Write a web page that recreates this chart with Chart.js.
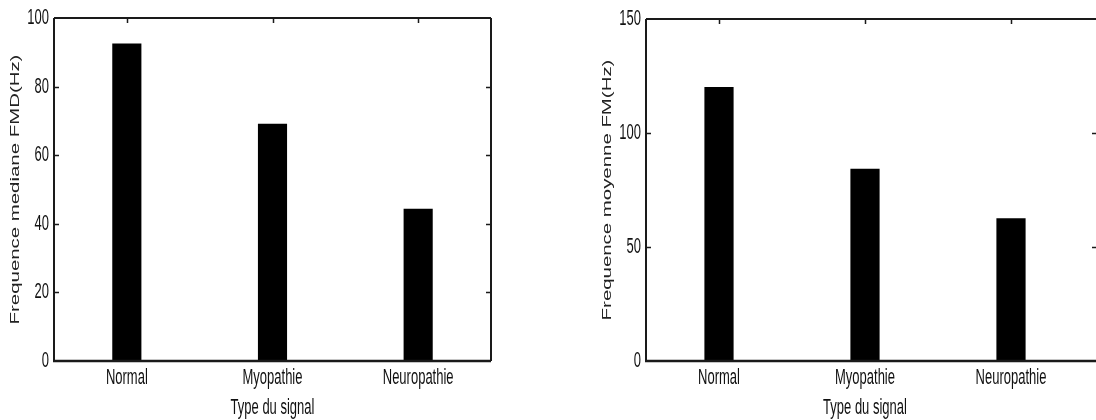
<!DOCTYPE html>
<html>
<head>
<meta charset="utf-8">
<script src="https://cdn.jsdelivr.net/npm/chart.js@4"></script>
<style>
  html, body { margin: 0; padding: 0; background: #fff; }
  #wrap { position: relative; width: 1096px; height: 420px; overflow: hidden; }
  canvas { position: absolute; top: 0; }
  #medianChart { left: 0; }
  #meanChart { left: 548px; }
</style>
</head>
<body>
<div id="wrap">
  <canvas id="medianChart" width="548" height="420"></canvas>
  <canvas id="meanChart" width="548" height="420"></canvas>
</div>
<script>
// values
const categories = ['Normal', 'Myopathie', 'Neuropathie'];
const medianValues = [92.6, 69.2, 44.4];   // Frequence mediane FMD (Hz)
const meanValues = [120.2, 84.3, 62.6];    // Frequence moyenne FM (Hz)
const medianTicks = [0, 20, 40, 60, 80, 100];
const meanTicks = [0, 50, 100, 150];

const textFont = '"Liberation Sans", Arial, Helvetica, sans-serif';
const ink = '#1a1a1a';
const textStretch = 1.7;  // the source figure was scaled taller than wide

// matlab style box with inward ticks, drawn from the scales
const framePlugin = {
    id: 'frame',
    beforeDraw(chart) {
        const ctx = chart.ctx;
        if (ctx._stretched) return;
        const fill = ctx.fillText;
        // stretch every text along the page's vertical, around its own anchor
        ctx.fillText = function (text, x, y, maxWidth) {
            const t = this.getTransform();
            const p = t.transformPoint(new DOMPoint(x, y));
            this.save();
            this.setTransform(new DOMMatrix()
                .translate(p.x, p.y).scale(1, textStretch).translate(-p.x, -p.y)
                .multiply(t));
            if (maxWidth === undefined) fill.call(this, text, x, y);
            else fill.call(this, text, x, y, maxWidth);
            this.restore();
        };
        ctx._stretched = true;
    },
    afterDatasetsDraw(chart, args, opts) {
        const {ctx, chartArea: a, scales: {x, y}} = chart;
        const right = a.right + (opts.extendRight || 0);
        const tl = 5;
        ctx.save();
        ctx.strokeStyle = ink;
        ctx.lineWidth = 1.5;
        ctx.beginPath();
        y.ticks.forEach(t => {
            if (t.value === y.min || t.value === y.max) return;
            const py = Math.round(y.getPixelForValue(t.value)) + 0.5;
            ctx.moveTo(a.left, py); ctx.lineTo(a.left + tl, py);
            ctx.moveTo(right - tl, py); ctx.lineTo(right, py);
        });
        categories.forEach((c, i) => {
            const px = Math.round(x.getPixelForValue(i)) + 0.5;
            ctx.moveTo(px, a.top); ctx.lineTo(px, a.top + tl);
        });
        ctx.stroke();
        ctx.lineWidth = 2;
        ctx.beginPath();
        ctx.moveTo(a.left, a.top); ctx.lineTo(right, a.top);
        ctx.moveTo(a.left, a.top); ctx.lineTo(a.left, a.bottom);
        if (!opts.extendRight) { ctx.moveTo(right, a.top); ctx.lineTo(right, a.bottom); }
        ctx.stroke();
        ctx.lineWidth = 2.5;
        ctx.beginPath();
        ctx.moveTo(a.left - 1, a.bottom); ctx.lineTo(right, a.bottom);
        ctx.stroke();
        ctx.restore();
    }
};

function barChart(id, values, ticks, yTitle, box) {
    new Chart(document.getElementById(id), {
        type: 'bar',
        data: {
            labels: categories,
            datasets: [{
                data: values,
                backgroundColor: '#000',
                borderWidth: 0,
                barPercentage: 0.2,
                categoryPercentage: 1
            }]
        },
        options: {
            responsive: false,
            animation: false,
            events: [],
            layout: {padding: {left: box.padLeft, top: box.top, right: box.padRight, bottom: 0}},
            plugins: {
                legend: {display: false},
                tooltip: {enabled: false},
                frame: {extendRight: box.extendRight}
            },
            scales: {
                x: {
                    grid: {display: false, drawTicks: false},
                    border: {display: false},
                    ticks: {color: '#111', padding: 9, font: {family: textFont, size: 13}},
                    title: {display: true, text: 'Type du signal', color: '#111',
                        padding: {top: 4, bottom: 4}, font: {family: textFont, size: 13}},
                    afterFit(s) { s.height = 59; }
                },
                y: {
                    min: 0,
                    max: ticks[ticks.length - 1],
                    afterBuildTicks(s) { s.ticks = ticks.map(v => ({value: v})); },
                    grid: {display: false, drawTicks: false},
                    border: {display: false},
                    ticks: {color: '#111', padding: 5, font: {family: textFont, size: 13}},
                    title: {display: true, text: yTitle, color: '#222',
                        padding: {top: 8, bottom: 8}, font: {family: textFont, size: 12}},
                    afterFit(s) { s.width = 54; }
                }
            }
        },
        plugins: [framePlugin]
    });
}

barChart('medianChart', medianValues, medianTicks, 'Frequence mediane FMD(Hz)',
    {padLeft: 0, top: 18, padRight: 57, extendRight: 0});
barChart('meanChart', meanValues, meanTicks, 'Frequence moyenne FM(Hz)',
    {padLeft: 44, top: 19, padRight: 12, extendRight: 13});
</script>
</body>
</html>
